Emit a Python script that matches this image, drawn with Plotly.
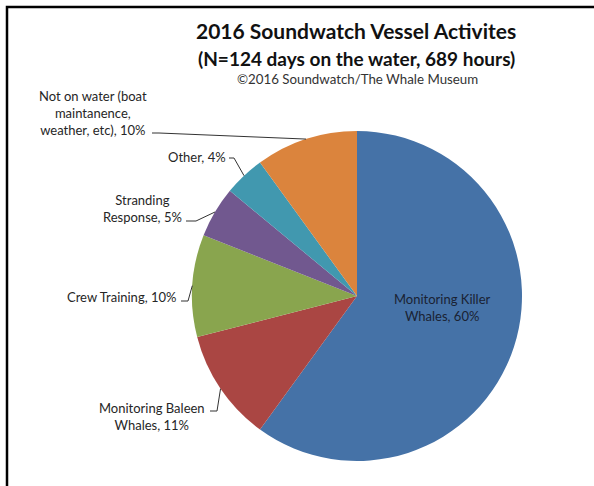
import math
import plotly.graph_objects as go

# Activity shares, in clockwise order from 12 o'clock
categories = [
    "Monitoring Killer Whales",
    "Monitoring Baleen Whales",
    "Crew Training",
    "Stranding Response",
    "Other",
    "Not on water (boat maintanence, weather, etc)",
]
shares = [60, 11, 10, 5, 4, 10]
label_texts = [
    "Monitoring Killer<br>Whales, 60%",
    "Monitoring Baleen<br>Whales, 11%",
    "Crew Training, 10%",
    "Stranding<br>Response, 5%",
    "Other, 4%",
    "Not on water (boat<br>maintanence,<br>weather, etc), 10%",
]
colors = ["#4572A7", "#AA4643", "#89A54E", "#71588F", "#4198AF", "#DB843D"]

title_text = "2016 Soundwatch Vessel Activites"
subtitle_text = "(N=124 days on the water, 689 hours)"
credit_text = "©2016 Soundwatch/The Whale Museum"

W, H = 594, 486
FONT = "Lato"

# Pie geometry in pixels
CX, CY, R = 357, 296, 165


def px(x):
    return x / W


def py(y):
    return 1 - y / H


fig = go.Figure(
    go.Pie(
        labels=categories,
        values=shares,
        sort=False,
        direction="clockwise",
        rotation=0,
        marker=dict(colors=colors, line=dict(width=0)),
        textinfo="none",
        hoverinfo="label+percent",
        showlegend=False,
        domain=dict(x=[px(CX - R), px(CX + R)], y=[py(CY + R), py(CY - R)]),
    )
)

# Label placement (text centre in px) and leader-line start/elbow points
label_pos = [(442, 307), (152, 416), (121, 297), (142, 208), (197, 157), (93, 113)]
leader_start = [None, (210, 411), (181, 301), (186, 221), (229, 158), (152, 133)]
leader_elbow = [None, (217, 411), (188, 301), (196, 221), (234, 158), (159, 133)]

annotations = []
shapes = []
total = sum(shares)
cum = 0
for i, v in enumerate(shares):
    mid = (cum + v / 2) / total * 2 * math.pi
    cum += v
    ex = CX + R * math.sin(mid)
    ey = CY - R * math.cos(mid)
    lx, ly = label_pos[i]
    annotations.append(dict(
        x=px(lx), y=py(ly), xref="paper", yref="paper",
        text=label_texts[i], showarrow=False, align="center",
        xanchor="center", yanchor="middle",
        font=dict(family=FONT, size=13, color="#262626" if i else "#1a2233"),
    ))
    if leader_start[i] is not None:
        sx, sy = leader_start[i]
        bx, by = leader_elbow[i]
        shapes.append(dict(
            type="path", xref="paper", yref="paper",
            path=f"M {px(sx)} {py(sy)} L {px(bx)} {py(by)} L {px(ex)} {py(ey)}",
            line=dict(color="#333333", width=1),
        ))

annotations += [
    dict(x=px(356), y=py(31), xref="paper", yref="paper", text=f"<b>{title_text}</b>",
         showarrow=False, xanchor="center", yanchor="middle",
         font=dict(family=FONT, size=21, color="#111111")),
    dict(x=px(356), y=py(58), xref="paper", yref="paper", text=f"<b>{subtitle_text}</b>",
         showarrow=False, xanchor="center", yanchor="middle",
         font=dict(family=FONT, size=19, color="#111111")),
    dict(x=px(357), y=py(79), xref="paper", yref="paper", text=credit_text,
         showarrow=False, xanchor="center", yanchor="middle",
         font=dict(family=FONT, size=13.3, color="#333333")),
]

# Frame along the left and top edges
shapes.append(dict(
    type="path", xref="paper", yref="paper",
    path=f"M {px(7)} 0 L {px(7)} {py(7)} L 1 {py(7)}",
    line=dict(color="#000000", width=2.5),
))

fig.update_layout(
    width=W, height=H,
    margin=dict(l=0, r=0, t=0, b=0),
    paper_bgcolor="white", plot_bgcolor="white",
    annotations=annotations, shapes=shapes,
)

fig.write_html(
    "out.html",
    config={"displayModeBar": False},
    post_script="document.body.style.margin='0';document.body.style.overflow='hidden';",
)
